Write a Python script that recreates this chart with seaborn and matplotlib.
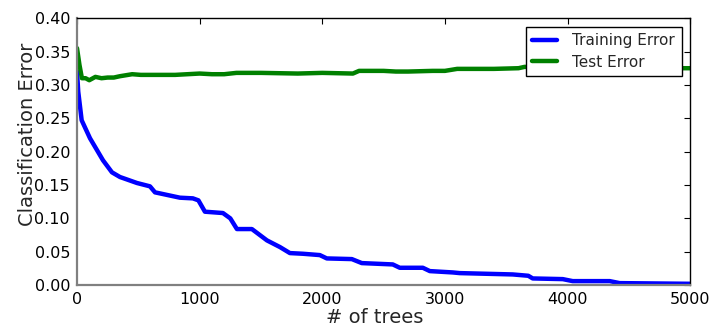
import matplotlib
matplotlib.use("Agg")
import matplotlib.pyplot as plt
import seaborn as sns
import pandas as pd

# Training error vs number of trees
train_trees = [0, 10, 38, 106, 212, 285, 350, 489, 595, 636, 839, 945, 990,
               1043, 1190, 1250, 1304, 1426, 1549, 1655, 1736, 1842, 1980, 2037,
               2241, 2322, 2575, 2632, 2820, 2877, 3064, 3121, 3553, 3680, 3716,
               3961, 4042, 4344, 4425, 5000]
train_err = [0.320, 0.290, 0.247, 0.220, 0.187, 0.169, 0.162, 0.153, 0.148,
             0.139, 0.131, 0.130, 0.127, 0.110, 0.108, 0.100, 0.084, 0.084,
             0.067, 0.057, 0.048, 0.047, 0.045, 0.040, 0.039, 0.033, 0.031,
             0.026, 0.026, 0.021, 0.019, 0.018, 0.016, 0.014, 0.010, 0.009,
             0.006, 0.006, 0.003, 0.002]

# Test error vs number of trees
test_trees = [0, 20, 40, 70, 100, 130, 150, 200, 250, 300, 350, 450, 520, 600,
              800, 1000, 1100, 1200, 1300, 1500, 1800, 2000, 2250, 2300, 2500,
              2600, 2700, 2900, 3000, 3100, 3400, 3600, 3650, 3750, 3800, 4000,
              5000]
test_err = [0.355, 0.330, 0.310, 0.310, 0.307, 0.310, 0.312, 0.310, 0.311,
            0.311, 0.313, 0.316, 0.315, 0.315, 0.315, 0.317, 0.316, 0.316,
            0.318, 0.318, 0.317, 0.318, 0.317, 0.321, 0.321, 0.320, 0.320,
            0.321, 0.321, 0.324, 0.324, 0.325, 0.327, 0.326, 0.325, 0.325,
            0.325]

df = pd.concat([
    pd.DataFrame({"trees": train_trees, "error": train_err, "series": "Training Error"}),
    pd.DataFrame({"trees": test_trees, "error": test_err, "series": "Test Error"}),
])

sns.set_style("white")
plt.rcParams["font.family"] = ["DejaVu Sans"]

fig = plt.figure(figsize=(7.13, 3.30), dpi=100)
ax = fig.add_axes([0.108, 0.136, 0.860, 0.809])

sns.lineplot(data=df, x="trees", y="error", hue="series",
             palette={"Training Error": "#0000ff", "Test Error": "#008000"},
             linewidth=3.2, ax=ax, sort=False, estimator=None)

ax.set_xlim(0, 5000)
ax.set_ylim(0, 0.40)
ax.set_xticks([0, 1000, 2000, 3000, 4000, 5000])
ax.set_yticks([0.0, 0.05, 0.10, 0.15, 0.20, 0.25, 0.30, 0.35, 0.40])
ax.set_yticklabels([f"{v:.2f}" for v in ax.get_yticks()])
ax.set_xlabel("# of trees", fontsize=14)
ax.set_ylabel("Classification Error", fontsize=14)
ax.xaxis.set_label_coords(0.486, -0.085)
ax.yaxis.set_label_coords(-0.066, 0.565)

ax.tick_params(axis="both", which="major", direction="in", length=4,
               width=0.8, labelsize=11.5, top=True, right=True,
               colors="black", pad=5)
for side in ["top", "right"]:
    ax.spines[side].set_color("black")
    ax.spines[side].set_linewidth(1.0)
for side in ["left", "bottom"]:
    ax.spines[side].set_color("#808080")
    ax.spines[side].set_linewidth(1.6)
ax.grid(False)

leg = ax.legend(loc="upper right", fontsize=11, frameon=True, fancybox=False,
                framealpha=1, handlelength=1.6, handletextpad=1.0,
                borderpad=0.45, labelspacing=0.4, borderaxespad=0.55)
leg.get_frame().set_edgecolor("black")
leg.get_frame().set_linewidth(1.0)
for line in leg.get_lines():
    line.set_linewidth(3.2)

fig.savefig("out.png", dpi=100)
